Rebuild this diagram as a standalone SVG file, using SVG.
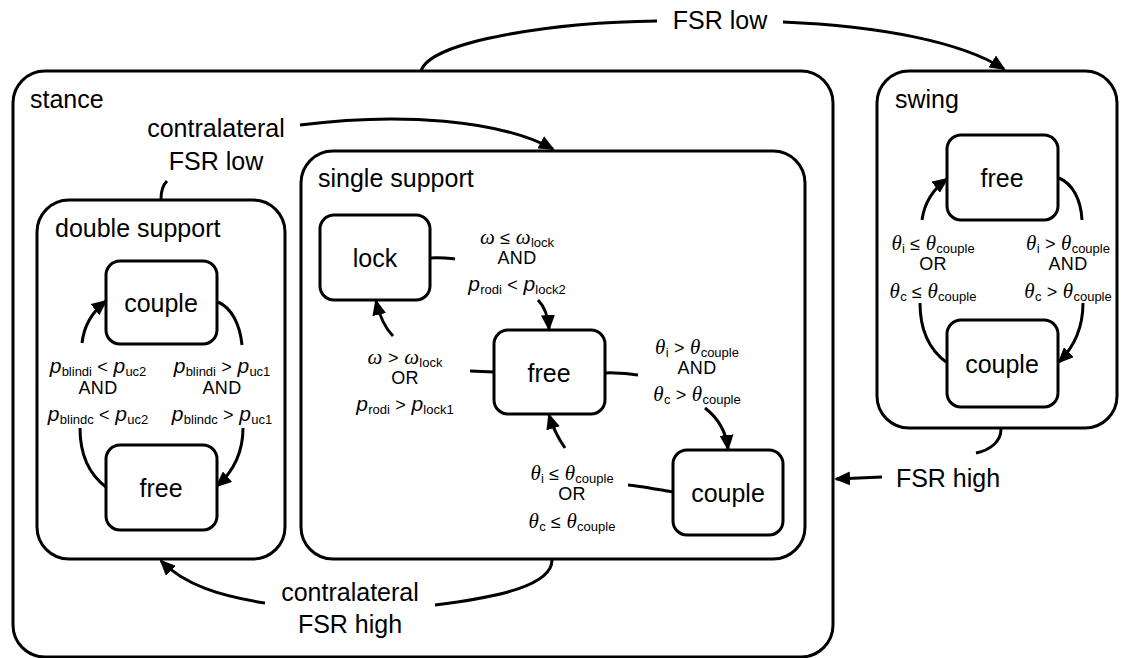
<svg xmlns="http://www.w3.org/2000/svg" width="1130" height="658" viewBox="0 0 1130 658">
<style>
.box{fill:none;stroke:#000;stroke-width:3}
.node{fill:#fff;stroke:#000;stroke-width:3}
.t{font-family:"Liberation Sans",Arial,sans-serif;font-size:25px;fill:#000}
.n{font-family:"Liberation Sans",Arial,sans-serif;font-size:25px;fill:#000;text-anchor:middle}
.c{font-family:"Liberation Sans",Arial,sans-serif;font-size:18px;fill:#000;text-anchor:middle;letter-spacing:0.3px}
.g{font-family:"Liberation Serif","Times New Roman",serif;font-style:italic;font-size:21px}
.p{font-style:italic;font-size:21px}
.s{font-size:13px;letter-spacing:0}
.e{fill:none;stroke:#000;stroke-width:3}
.a{fill:none;stroke:#000;stroke-width:3;marker-end:url(#ah)}
</style>
<defs>
<marker id="ah" markerWidth="16" markerHeight="14" refX="14" refY="7" orient="auto" markerUnits="userSpaceOnUse">
<path d="M0,0 L16,7 L0,14 z" fill="#000"/>
</marker>
</defs>
<rect width="1130" height="658" fill="#fff"/>
<g id="stance">
<rect class="box" x="13" y="71" width="820" height="586" rx="32"/>
<text class="t" x="30" y="108">stance</text>
</g>
<g id="swing">
<rect class="box" x="877" y="71" width="240" height="357" rx="32"/>
<text class="t" x="895" y="108">swing</text>
</g>
<g id="single-support">
<rect class="box" x="301" y="151" width="504" height="408" rx="32"/>
<text class="t" x="318" y="187">single support</text>
</g>
<g id="double-support">
<rect class="box" x="37" y="200" width="248" height="359" rx="32"/>
<text class="t" x="55" y="237">double support</text>
</g>
<g id="ss-lock">
<rect class="node" x="320" y="215" width="110" height="85" rx="14"/>
<text class="n" x="375" y="267">lock</text>
</g>
<g id="ss-free">
<rect class="node" x="494" y="330" width="111" height="84" rx="14"/>
<text class="n" x="549" y="382">free</text>
</g>
<g id="ss-couple">
<rect class="node" x="673" y="450" width="110" height="85" rx="14"/>
<text class="n" x="728" y="502">couple</text>
</g>
<g id="ds-couple">
<rect class="node" x="106" y="261" width="111" height="83" rx="14"/>
<text class="n" x="161" y="312">couple</text>
</g>
<g id="ds-free">
<rect class="node" x="106" y="445" width="111" height="85" rx="14"/>
<text class="n" x="161" y="497">free</text>
</g>
<g id="sw-free">
<rect class="node" x="947" y="135" width="111" height="85" rx="14"/>
<text class="n" x="1002" y="187">free</text>
</g>
<g id="sw-couple">
<rect class="node" x="947" y="320" width="111" height="87" rx="14"/>
<text class="n" x="1002" y="373">couple</text>
</g>
<g id="connectors">
<path class="e" d="M421 71 C430 40 560 22 657 21"/>
<path class="a" d="M783 22 C880 26 962 42 1004 69"/>
<text class="n" x="720" y="29">FSR low</text>
<path class="e" d="M1001 429 C1001 442 990 450 976 453"/>
<path class="a" d="M882 477 L836 479"/>
<text class="n" x="948" y="487">FSR high</text>
<path class="e" d="M161 199 C161 190 164 184 167 181"/>
<path class="a" d="M300 125 C400 112 500 120 553 149"/>
<text class="n" x="216" y="137">contralateral</text>
<text class="n" x="216" y="170">FSR low</text>
<path class="e" d="M552 560 C552 585 500 597 435 605"/>
<path class="a" d="M265 603 C220 596 185 585 161 561"/>
<text class="n" x="350" y="601">contralateral</text>
<text class="n" x="350" y="633">FSR high</text>
<path class="e" d="M218 302 C232 308 240 325 242 345"/>
<path class="a" d="M243 428 C243 450 235 470 217 486"/>
<path class="e" d="M106 487 C90 475 80 455 80 428"/>
<path class="a" d="M82 343 C84 325 92 312 106 301"/>
<path class="e" d="M946 362 C930 350 920 330 920 303"/>
<path class="a" d="M922 220 C924 205 932 190 947 179"/>
<path class="e" d="M1059 178 C1073 184 1081 200 1082 220"/>
<path class="a" d="M1083 303 C1083 325 1076 345 1059 362"/>
<path class="e" d="M430 258 C440 257 447 258 455 259"/>
<path class="a" d="M538 300 C545 307 548 315 549 329"/>
<path class="e" d="M494 372 L470 371"/>
<path class="a" d="M393 336 C385 328 380 318 376 301"/>
<path class="e" d="M605 373 C615 372 628 374 638 375"/>
<path class="a" d="M705 408 C718 418 726 430 728 449"/>
<path class="e" d="M673 492 C660 490 640 486 628 485"/>
<path class="a" d="M565 448 C558 438 553 428 549 415"/>
<text class="c" x="98" y="373"><tspan class="p">p</tspan><tspan class="s" dy="3">blindi</tspan><tspan dy="-3"> &lt; </tspan><tspan class="p">p</tspan><tspan class="s" dy="3">uc2</tspan></text>
<text class="c" x="98" y="394">AND</text>
<text class="c" x="98" y="421"><tspan class="p">p</tspan><tspan class="s" dy="3">blindc</tspan><tspan dy="-3"> &lt; </tspan><tspan class="p">p</tspan><tspan class="s" dy="3">uc2</tspan></text>
<text class="c" x="222" y="373"><tspan class="p">p</tspan><tspan class="s" dy="3">blindi</tspan><tspan dy="-3"> &gt; </tspan><tspan class="p">p</tspan><tspan class="s" dy="3">uc1</tspan></text>
<text class="c" x="222" y="394">AND</text>
<text class="c" x="222" y="421"><tspan class="p">p</tspan><tspan class="s" dy="3">blindc</tspan><tspan dy="-3"> &gt; </tspan><tspan class="p">p</tspan><tspan class="s" dy="3">uc1</tspan></text>
<text class="c" x="933" y="250"><tspan class="g">θ</tspan><tspan class="s" dy="3">i</tspan><tspan dy="-3"> ≤ </tspan><tspan class="g">θ</tspan><tspan class="s" dy="3">couple</tspan></text>
<text class="c" x="933" y="270">OR</text>
<text class="c" x="933" y="298"><tspan class="g">θ</tspan><tspan class="s" dy="3">c</tspan><tspan dy="-3"> ≤ </tspan><tspan class="g">θ</tspan><tspan class="s" dy="3">couple</tspan></text>
<text class="c" x="1068" y="250"><tspan class="g">θ</tspan><tspan class="s" dy="3">i</tspan><tspan dy="-3"> &gt; </tspan><tspan class="g">θ</tspan><tspan class="s" dy="3">couple</tspan></text>
<text class="c" x="1068" y="270">AND</text>
<text class="c" x="1068" y="298"><tspan class="g">θ</tspan><tspan class="s" dy="3">c</tspan><tspan dy="-3"> &gt; </tspan><tspan class="g">θ</tspan><tspan class="s" dy="3">couple</tspan></text>
<text class="c" x="517" y="244"><tspan class="g">ω</tspan><tspan> ≤ </tspan><tspan class="g">ω</tspan><tspan class="s" dy="3">lock</tspan></text>
<text class="c" x="517" y="264">AND</text>
<text class="c" x="517" y="291"><tspan class="p">p</tspan><tspan class="s" dy="3">rodi</tspan><tspan dy="-3"> &lt; </tspan><tspan class="p">p</tspan><tspan class="s" dy="3">lock2</tspan></text>
<text class="c" x="405" y="364"><tspan class="g">ω</tspan><tspan> &gt; </tspan><tspan class="g">ω</tspan><tspan class="s" dy="3">lock</tspan></text>
<text class="c" x="405" y="384">OR</text>
<text class="c" x="405" y="411"><tspan class="p">p</tspan><tspan class="s" dy="3">rodi</tspan><tspan dy="-3"> &gt; </tspan><tspan class="p">p</tspan><tspan class="s" dy="3">lock1</tspan></text>
<text class="c" x="697" y="354"><tspan class="g">θ</tspan><tspan class="s" dy="3">i</tspan><tspan dy="-3"> &gt; </tspan><tspan class="g">θ</tspan><tspan class="s" dy="3">couple</tspan></text>
<text class="c" x="697" y="374">AND</text>
<text class="c" x="697" y="401"><tspan class="g">θ</tspan><tspan class="s" dy="3">c</tspan><tspan dy="-3"> &gt; </tspan><tspan class="g">θ</tspan><tspan class="s" dy="3">couple</tspan></text>
<text class="c" x="572" y="480"><tspan class="g">θ</tspan><tspan class="s" dy="3">i</tspan><tspan dy="-3"> ≤ </tspan><tspan class="g">θ</tspan><tspan class="s" dy="3">couple</tspan></text>
<text class="c" x="572" y="500">OR</text>
<text class="c" x="572" y="528"><tspan class="g">θ</tspan><tspan class="s" dy="3">c</tspan><tspan dy="-3"> ≤ </tspan><tspan class="g">θ</tspan><tspan class="s" dy="3">couple</tspan></text>
</g>
</svg>
